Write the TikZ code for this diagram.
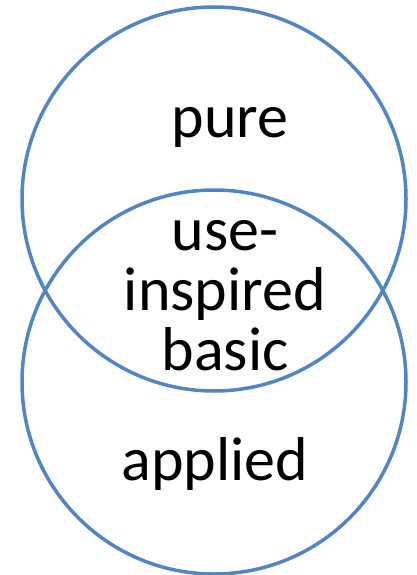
\documentclass[tikz,border=0pt]{standalone}
\usepackage{fontspec}
\setmainfont{Carlito}
\definecolor{venn}{RGB}{82,133,194}

\begin{document}
\begin{tikzpicture}[x=1pt,y=-1pt,
  ring/.style={draw=venn,line width=3.5pt},
  word/.style={anchor=base,inner sep=0pt,font=\fontsize{62}{60}\selectfont}]
\useasboundingbox (0,0) rectangle (417,575);
% the two overlapping sets
\draw [ring] (214,199) circle (192);
\draw [ring] (214,382) circle (192);
% labels (base of a multi-line node sits on its last line)
\node [word] (pure) at (230,137) {pure};
\node [word,align=center] (both) at (225,370) {use-\\inspired\\basic};
\node [word] (applied) at (215,480) {applied};
\end{tikzpicture}
\end{document}
